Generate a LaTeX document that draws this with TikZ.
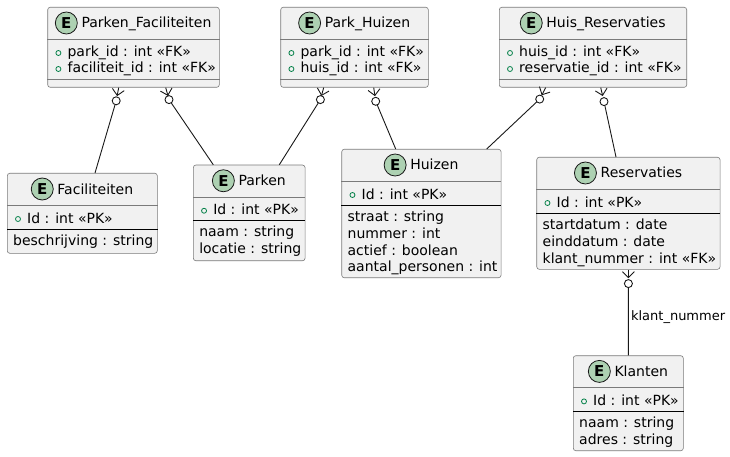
\documentclass[tikz,border=0pt]{standalone}
\usepackage{fontspec}
\setmainfont{DejaVu Sans}
\usetikzlibrary{calc}

\definecolor{vak}{HTML}{F1F1F1}
\definecolor{rand}{HTML}{181818}
\definecolor{vakrand}{HTML}{7A7A7A}
\definecolor{spotgroen}{HTML}{ADD1B2}
\definecolor{sleutelgroen}{HTML}{038048}

\tikzset{
  ent/.style={draw=vakrand, fill=vak, line width=0.6pt, rounded corners=2.5pt, inner sep=0pt},
  tekst/.style={inner sep=0pt, font=\fontsize{14}{16}\selectfont},
  spot/.style={circle, draw=rand, fill=spotgroen, line width=0.8pt, minimum size=22pt, inner sep=0pt, font=\fontsize{15}{15}\selectfont\bfseries},
  deel/.style={draw=vakrand, line width=0.6pt},
  scheid/.style={draw=black, line width=1pt},
  sleutel/.style={draw=sleutelgroen, line width=0.8pt},
  rel/.style={draw=rand, line width=0.9pt},
  bijschrift/.style={inner sep=0pt, font=\fontsize{13}{15}\selectfont}
}

\begin{document}
\begin{tikzpicture}[x=1pt, y=-1pt]
	\useasboundingbox (0,0) rectangle (730,457);
	% kop met E-spot
	\def\kop#1#2{
		\node[tekst, anchor=base] (#1-titel) at ([xshift=13pt, yshift=-21pt]#1.north) {#2};
		\node[spot] (#1-e) at ($(#1-titel.west |- #1.north)+(-15,16)$) {E};
		\draw[deel] ([yshift=-32.3pt]#1.north west) -- ([yshift=-32.3pt]#1.north east);
	}
	% veld met sleutelteken, #2 = basislijn
	\def\sleutelveld#1#2#3{
		\node[tekst, anchor=base west] (#1-#2) at ([xshift=20pt, yshift=-#2pt]#1.north west) {#3};
		\draw[sleutel] ($(#1-#2.base west)+(-9,-4)$) circle (2.5pt);
	}
	\def\veld#1#2#3{
		\node[tekst, anchor=base west] (#1-#2) at ([xshift=6pt, yshift=-#2pt]#1.north west) {#3};
	}
	\def\lijn#1#2#3{
		\draw[#3] ([yshift=-#2pt]#1.north west) -- ([yshift=-#2pt]#1.north east);
	}
	% kraaienpoot met nul-cirkel
	\def\relatie#1#2#3{
		\coordinate (#1-a) at ($(#1)!2pt!(#2)$);
		\coordinate (#1-p) at ($(#1)!8pt!(#2)$);
		\draw[rel] (#1) -- (#1-p);
		\draw[rel] ($(#1-a)!6pt!90:(#2)$) -- (#1-p) -- ($(#1-a)!6pt!-90:(#2)$);
		\draw[rel] (#2) circle (4pt);
		\draw[rel] ($(#2)!4pt!(#3)$) -- (#3);
	}
	
	\node[ent, minimum width=171.6pt, minimum height=80pt] (PF) at (133.5,47.3) {};
	\node[ent, minimum width=147.6pt, minimum height=80pt] (PH) at (354.5,47.3) {};
	\node[ent, minimum width=187.4pt, minimum height=80pt] (HR) at (593,47.3) {};
	\node[ent, minimum width=150pt, minimum height=80pt] (Fac) at (82.3,213.3) {};
	\node[ent, minimum width=111.7pt, minimum height=95.7pt] (Par) at (249.2,212.9) {};
	\node[ent, minimum width=159.3pt, minimum height=128.4pt] (Hui) at (421.4,213.5) {};
	\node[ent, minimum width=183.3pt, minimum height=112pt] (Res) at (628.4,213.3) {};
	\node[ent, minimum width=110pt, minimum height=95pt] (Kla) at (628.3,403.2) {};
	
	\kop{PF}{Parken\_Faciliteiten}
	\sleutelveld{PF}{50}{park\_id : int «FK»}
	\sleutelveld{PF}{66}{faciliteit\_id : int «FK»}
	\lijn{PF}{72}{deel}
	
	\kop{PH}{Park\_Huizen}
	\sleutelveld{PH}{50}{park\_id : int «FK»}
	\sleutelveld{PH}{66}{huis\_id : int «FK»}
	\lijn{PH}{72}{deel}
	
	\kop{HR}{Huis\_Reservaties}
	\sleutelveld{HR}{50}{huis\_id : int «FK»}
	\sleutelveld{HR}{66}{reservatie\_id : int «FK»}
	\lijn{HR}{72}{deel}
	
	\kop{Fac}{Faciliteiten}
	\sleutelveld{Fac}{50}{Id : int «PK»}
	\lijn{Fac}{56}{scheid}
	\veld{Fac}{72}{beschrijving : string}
	
	\kop{Par}{Parken}
	\sleutelveld{Par}{50}{Id : int «PK»}
	\lijn{Par}{56}{scheid}
	\veld{Par}{72}{naam : string}
	\veld{Par}{89}{locatie : string}
	
	\kop{Hui}{Huizen}
	\sleutelveld{Hui}{50}{Id : int «PK»}
	\lijn{Hui}{56}{scheid}
	\veld{Hui}{72}{straat : string}
	\veld{Hui}{89}{nummer : int}
	\veld{Hui}{106}{actief : boolean}
	\veld{Hui}{122}{aantal\_personen : int}
	
	\kop{Res}{Reservaties}
	\sleutelveld{Res}{50}{Id : int «PK»}
	\lijn{Res}{56}{scheid}
	\veld{Res}{72}{startdatum : date}
	\veld{Res}{89}{einddatum : date}
	\veld{Res}{106}{klant\_nummer : int «FK»}
	
	\kop{Kla}{Klanten}
	\sleutelveld{Kla}{50}{Id : int «PK»}
	\lijn{Kla}{56}{scheid}
	\veld{Kla}{72}{naam : string}
	\veld{Kla}{89}{adres : string}
	
	% relaties
	\coordinate (s1) at ([xshift=71.3pt]PF.south west);
	\coordinate (c1) at ($(s1)+(-2.5,13.2)$);
	\coordinate (e1) at ([xshift=12.7pt]Fac.north);
	\relatie{s1}{c1}{e1}
	
	\coordinate (s2) at ([xshift=118.3pt]PF.south west);
	\coordinate (c2) at ($(s2)+(3.3,12)$);
	\coordinate (e2) at ([xshift=-35.9pt]Par.north);
	\relatie{s2}{c2}{e2}
	
	\coordinate (s3) at ([xshift=43.3pt]PH.south west);
	\coordinate (c3) at ($(s3)+(-3.3,12)$);
	\coordinate (e3) at ([xshift=30.1pt]Par.north);
	\relatie{s3}{c3}{e3}
	
	\coordinate (s4) at ([xshift=93.3pt]PH.south west);
	\coordinate (c4) at ($(s4)+(2,13.7)$);
	\coordinate (e4) at ([xshift=-25.7pt]Hui.north);
	\relatie{s4}{c4}{e4}
	
	\coordinate (s5) at ([xshift=46.7pt]HR.south west);
	\coordinate (c5) at ($(s5)+(-6,11.5)$);
	\coordinate (e5) at ([xshift=65.3pt]Hui.north);
	\relatie{s5}{c5}{e5}
	
	\coordinate (s6) at ([xshift=101.7pt]HR.south west);
	\coordinate (c6) at ($(s6)+(3.3,14)$);
	\coordinate (e6) at ([xshift=-12.4pt]Res.north);
	\relatie{s6}{c6}{e6}
	
	\coordinate (s7) at (Res.south);
	\coordinate (c7) at ($(s7)+(0,14)$);
	\coordinate (e7) at (Kla.north);
	\relatie{s7}{c7}{e7}
	\path (c7) -- (e7) node[bijschrift, pos=0.46, anchor=west, xshift=2.5pt] (lbl) {klant\_nummer};
\end{tikzpicture}
\end{document}
